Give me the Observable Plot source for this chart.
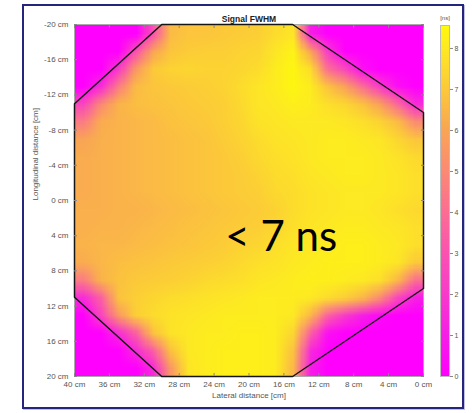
<!DOCTYPE html>
<html><head><meta charset="utf-8">
<script src="https://cdn.jsdelivr.net/npm/d3@7"></script>
<script src="https://cdn.jsdelivr.net/npm/@observablehq/plot@0.6"></script>
<style>
html,body{margin:0;padding:0;background:#fff;}
#wrap{position:relative;width:472px;height:413px;overflow:hidden;background:#fff;}
#border{position:absolute;left:22px;top:4px;width:442px;height:405px;box-sizing:border-box;border:2px solid #25257e;box-shadow:1px 1px 0 #c0c0e0;}
#main,#cbar{position:absolute;left:0;top:0;}
</style></head><body>
<div id="wrap"><div id="border"></div><div id="main"></div><div id="cbar"></div></div>
<script>
// ---- data ----
const title = "Signal FWHM";
const xLabel = "Lateral distance [cm]";
const yLabel = "Longitudinal distance [cm]";
const unitLabel = "[ns]";
const annotText = "< 7 ns";
const annotLat = [16.3];
const annotLong = [4.2];
const latTicks = [40, 36, 32, 28, 24, 20, 16, 12, 8, 4, 0];
const longTicks = [-20, -16, -12, -8, -4, 0, 4, 8, 12, 16, 20];
const cbTicks = [0, 1, 2, 3, 4, 5, 6, 7, 8];
const cbMax = 8.56;
const cbStops = [0, 1, 2, 3, 4, 5, 6, 7, 8, 8.56];
const cbColors = ["#ff00ff", "#f61ee6", "#f83acb", "#fa52b1", "#fb6d93", "#fb8a74", "#f9a555", "#fcc93a", "#fde924", "#fffb0a"];
// octagon outline (lateral cm, longitudinal cm)
const octLat  = [30, 15, 0, 0, 15, 30, 40, 40, 30];
const octLong = [-20, -20, -10, 10, 20, 20, 11, -11, -20];
// FWHM grid [ns]: 20 rows (longitudinal -20 -> 20) x 20 columns (lateral 40 -> 0)
const fwhm = [
 [0,0,0,0,3.0,6.6,6.9,6.9,7.0,7.1,7.2,7.6,7.9,1.0,0,0,0,0,0,0],
 [0,0,0,3.0,6.0,6.9,7.1,7.2,7.2,7.3,7.4,7.9,8.3,6.0,2.0,0,0,0,0,0],
 [0,0,2.0,5.5,7.0,7.3,7.4,7.3,7.3,7.4,7.6,8.1,8.4,7.6,4.0,2.5,0.5,0,0,0],
 [0,1.5,4.5,6.6,6.9,7.0,7.1,7.2,7.3,7.6,7.9,8.1,8.4,8.1,6.8,5.8,4.0,2.0,0.5,0],
 [2.5,5.0,6.4,6.7,6.8,6.9,7.0,7.1,7.2,7.5,7.9,8.0,8.2,8.1,7.7,7.4,6.8,5.8,3.8,1.5],
 [4.5,6.2,6.4,6.5,6.6,6.8,6.9,7.0,7.2,7.4,7.8,7.9,8.0,8.0,8.0,7.9,7.7,7.3,6.6,5.0],
 [6.0,6.3,6.4,6.5,6.6,6.7,6.8,6.9,7.1,7.3,7.6,7.8,7.9,8.0,8.1,8.1,8.0,7.9,7.4,6.9],
 [6.2,6.3,6.4,6.5,6.6,6.7,6.8,6.9,7.0,7.2,7.5,7.7,7.8,8.0,8.1,8.1,8.1,8.0,7.8,7.5],
 [6.2,6.3,6.4,6.5,6.6,6.7,6.8,6.9,7.0,7.1,7.3,7.6,7.7,7.9,8.0,8.1,8.1,8.0,7.9,7.7],
 [6.2,6.3,6.4,6.5,6.6,6.7,6.8,6.9,7.0,7.1,7.2,7.5,7.6,7.8,7.9,8.0,8.0,8.0,7.9,7.7],
 [6.3,6.3,6.4,6.4,6.5,6.6,6.7,6.8,6.9,7.0,7.1,7.3,7.6,7.8,7.9,8.0,8.0,7.9,7.7,7.5],
 [6.3,6.4,6.4,6.5,6.6,6.7,6.8,6.9,7.0,7.1,7.2,7.4,7.7,7.9,8.0,8.1,8.1,8.0,7.9,7.7],
 [6.4,6.5,6.5,6.6,6.7,6.8,6.9,7.0,7.1,7.3,7.4,7.7,7.9,8.0,8.1,8.2,8.2,8.1,8.0,7.7],
 [6.2,6.5,6.7,6.8,6.9,7.0,7.1,7.2,7.3,7.5,7.7,7.8,8.0,8.1,8.2,8.2,8.2,8.1,7.9,7.0],
 [4.5,6.4,6.8,7.0,7.1,7.2,7.3,7.5,7.6,7.7,7.9,8.0,8.1,8.2,8.2,8.1,8.0,7.7,6.5,4.0],
 [1.5,3.5,6.8,7.2,7.4,7.6,7.7,7.8,7.9,8.0,8.1,8.1,8.1,8.0,7.6,7.2,6.5,5.0,2.5,1.0],
 [0,2.5,5.5,7.2,7.6,7.8,7.9,8.0,8.1,8.1,8.1,8.1,8.0,6.5,3.5,2.0,1.0,0.3,0,0],
 [0,0,1.5,3.5,6.8,7.8,8.0,8.1,8.1,8.2,8.2,8.1,7.4,3.5,0.5,0,0,0,0,0],
 [0,0,0,1.5,3.5,6.8,8.0,8.1,8.2,8.2,8.2,8.1,6.8,1.5,0,0,0,0,0,0],
 [0,0,0,0,1.5,5.5,7.9,8.1,8.2,8.2,8.2,8.1,6.5,1.0,0,0,0,0,0,0]
];

// ---- chart ----
const W = 472, H = 413;
const font = "Liberation Sans, Arial, sans-serif";
const colorOpts = {type: "linear", domain: cbStops, range: cbColors, clamp: true};
const cm = d => `${d} cm`;

const main = Plot.plot({
  width: W, height: H,
  marginLeft: 74, marginRight: 49, marginTop: 24, marginBottom: 37,
  style: {background: "transparent", fontFamily: font, fontSize: "8px", color: "#555"},
  x: {domain: [40, 0]},
  y: {domain: [20, -20]},
  color: colorOpts,
  marks: [
    Plot.raster(fwhm.flat(), {width: fwhm[0].length, height: fwhm.length, x1: 40, x2: 0, y1: -20, y2: 20, fill: d => d, imageRendering: "auto"}),
    Plot.frame({stroke: "#aaa"}),
    Plot.line(octLat.map((d, i) => i), {x: i => octLat[i], y: i => octLong[i], stroke: "#151515", strokeWidth: 1.5}),
    Plot.axisX(latTicks, {anchor: "bottom", tickSize: 0, tickPadding: 5, tickFormat: cm, label: null, fill: "#555"}),
    Plot.axisY(longTicks, {anchor: "left", tickSize: 0, tickPadding: 6, tickFormat: cm, label: null, fill: "#555"}),
    Plot.axisX(latTicks, {anchor: "bottom", tickSize: -3, fill: "none", label: null, stroke: "#888"}),
    Plot.axisX(latTicks, {anchor: "top", tickSize: -3, fill: "none", label: null, stroke: "#888"}),
    Plot.axisY(longTicks, {anchor: "left", tickSize: -3, fill: "none", label: null, stroke: "#888"}),
    Plot.axisY(longTicks, {anchor: "right", tickSize: -3, fill: "none", label: null, stroke: "#888"}),
    Plot.text([title], {text: d => d, frameAnchor: "top", dy: -9, fontWeight: "bold", fontSize: 8.5, fill: "#222"}),
    Plot.text([xLabel], {text: d => d, frameAnchor: "bottom", dy: 21, fill: "#555"}),
    Plot.text([yLabel], {text: d => d, frameAnchor: "left", dx: -39, rotate: -90, fill: "#555"}),
    Plot.text([annotText], {text: d => d, x: annotLat, y: annotLong, fontSize: 42, fontFamily: "Lato", fill: "#000"})
  ]
});
document.getElementById("main").append(main);

const cbar = Plot.plot({
  width: W, height: H,
  marginLeft: 440, marginRight: 23, marginTop: 25, marginBottom: 37,
  style: {background: "transparent", fontFamily: font, fontSize: "7px", color: "#555"},
  x: {domain: [0, 1], axis: null},
  y: {domain: [0, cbMax], axis: null},
  color: colorOpts,
  marks: [
    Plot.raster({fill: (x, y) => y, x1: 0, x2: 1, y1: 0, y2: cbMax, width: 1, height: 350}),
    Plot.frame({stroke: "#bbb"}),
    Plot.axisY(cbTicks, {anchor: "right", tickSize: 3, tickPadding: 2, label: null, fill: "#555", stroke: "#888"}),
    Plot.text([unitLabel], {text: d => d, frameAnchor: "top", dy: -10, fontSize: 6, fill: "#555"})
  ]
});
document.getElementById("cbar").append(cbar);
</script>
</body></html>
